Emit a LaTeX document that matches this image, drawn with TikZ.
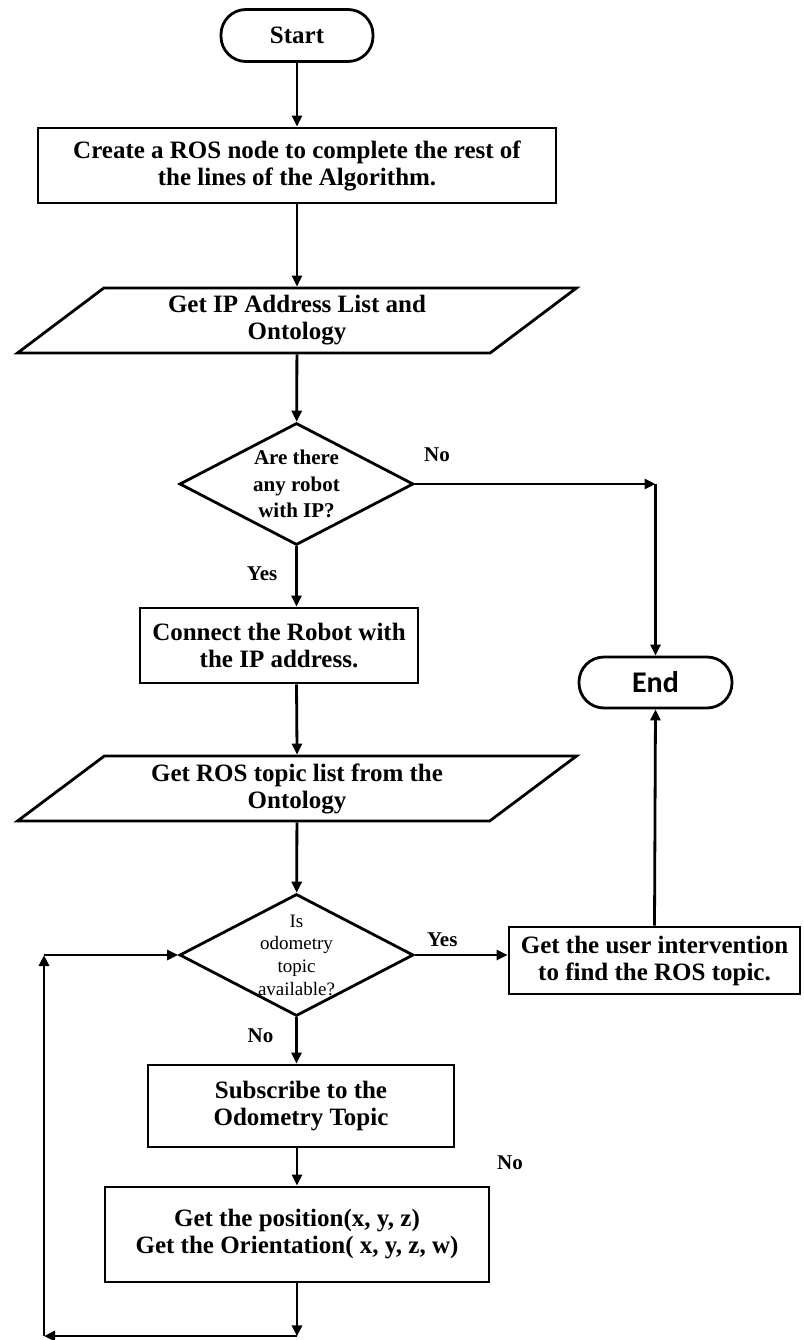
\documentclass[tikz,border=0pt]{standalone}
\usepackage{fontspec}
\setmainfont{Liberation Serif}
\newfontfamily\endfont{Carlito}
\usetikzlibrary{arrows.meta, positioning, calc, shapes.geometric}

\begin{document}
\begin{tikzpicture}[x=1pt, y=-1pt,
          ln/.style={line width=2.8pt},
          arr/.style={ln, -{Triangle[length=11pt, width=10pt]}},
          term/.style={draw, ln, rounded corners=25pt,
                       minimum width=152pt, minimum height=52pt,
                       font=\fontsize{25}{27}\selectfont\bfseries},
          proc/.style={draw, ln, align=center, inner sep=0pt,
                       font=\fontsize{25}{27}\selectfont\bfseries},
          io/.style={draw, ln, trapezium, trapezium left angle=30,
                     trapezium right angle=150,
                     trapezium stretches body=true,
                     minimum width=559pt, minimum height=65pt,
                     inner sep=0pt, align=center,
                     font=\fontsize{25}{27}\selectfont\bfseries},
          dec/.style={draw, ln, diamond, minimum width=234pt,
                      minimum height=122pt, inner sep=0pt},
          dtxt/.style={align=center, inner sep=0pt},
          lab/.style={inner sep=0pt,
                      font=\fontsize{21}{24}\selectfont\bfseries},
      ]
      \useasboundingbox (0, 0) rectangle (803, 1340);

      % main column
      \node[term] (start) at (297, 35.5) {Start};
      \node[proc, minimum width=518pt, minimum height=75pt] (create)
          at (297, 165.5)
          {Create a ROS node to complete the rest of\\
           the lines of the Algorithm.};
      \node[io] (iplist) at (297, 320.5)
          {Get IP Address List and\\Ontology};
      \node[dec] (robot) at (296.5, 484) {};
      \node[dtxt, font=\fontsize{21}{26.5}\selectfont\bfseries]
          (robottxt) at (robot) {Are there\\any robot\\with IP?};
      \node[proc, minimum width=278pt, minimum height=75pt] (connect)
          at (279, 645.5)
          {Connect the Robot with\\the IP address.};
      \node[io] (topics) at (297, 788.5)
          {Get ROS topic list from the\\Ontology};
      \node[dec] (odom) at (296.5, 955) {};
      \node[dtxt, font=\fontsize{19}{22.7}\selectfont]
          (odomtxt) at (odom) {Is\\odometry\\topic\\available?};
      \node[proc, minimum width=306pt, minimum height=82pt] (subscribe)
          at (301, 1106)
          {Subscribe to the\\Odometry Topic};
      \node[proc, minimum width=384pt, minimum height=95pt] (pose)
          at (297, 1234.5)
          {Get the position(x, y, z)\\
           Get the Orientation( x, y, z, w)};

      % right column
      \node[term, minimum width=153pt, minimum height=51pt,
            font=\fontsize{30}{32}\selectfont\endfont\bfseries]
          (stop) at (655.5, 682.5) {End};
      \node[proc, minimum width=291pt, minimum height=67pt] (userhelp)
          at (654.5, 960.5)
          {Get the user intervention\\to find the ROS topic.};

      % branch labels
      \node[lab, above right=22pt and 9pt of robot.east] (no1) {No};
      \node[lab, below left=20pt and 19pt of robot.south] (yes1) {Yes};
      \node[lab, above right=8pt and 12pt of odom.east] (yes2) {Yes};
      \node[lab, below left=11pt and 23pt of odom.south] (no2) {No};
      \node[lab] (no3) at (510, 1163) {No};

      % straight flow
      \draw[arr] (start) -- (create);
      \draw[arr] (create) -- (iplist);
      \draw[arr] (iplist) -- (robot);
      \draw[arr] (robot.south) -- (robot.south |- connect.north);
      \draw[arr] (connect.south -| robot.south) -- (topics.north);
      \draw[arr] (topics) -- (odom);
      \draw[arr] (odom.south) -- (odom.south |- subscribe.north);
      \draw[arr] (subscribe.south -| pose.north) -- (pose.north);

      % no robot: go to End
      \coordinate (nocorner) at (stop.north |- robot.east);
      \draw[arr] (robot.east) -- (nocorner);
      \draw[arr] (nocorner) -- (stop.north);

      % topic found: ask the user, then End
      \draw[arr] (odom.east) -- (odom.east -| userhelp.west);
      \draw[arr] (userhelp.north) -- (stop.south);

      % loop back to the topic check
      \coordinate (lbr) at ($(pose.south)+(0, 53)$);
      \coordinate (lbl) at (44, 1336);
      \coordinate (ltl) at (lbl |- odom.west);
      \draw[arr] (pose.south) -- (lbr);
      \draw[arr] (lbr |- lbl) -- (lbl);
      \draw[arr] (lbl) -- (ltl);
      \draw[arr] (ltl) -- (odom.west);
      \end{tikzpicture}
\end{document}
